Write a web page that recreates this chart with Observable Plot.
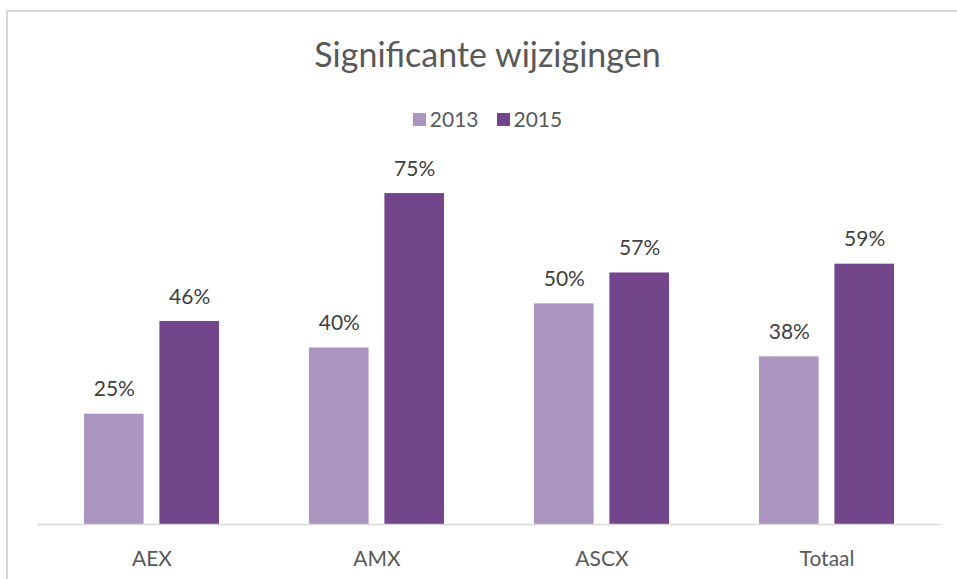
<!DOCTYPE html>
<html>
<head>
<meta charset="utf-8">
<script src="https://cdn.jsdelivr.net/npm/d3@7"></script>
<script src="https://cdn.jsdelivr.net/npm/@observablehq/plot@0.6"></script>
<style>
  html, body { margin: 0; padding: 0; background: #fff; overflow: hidden; }
  body { width: 957px; height: 579px; position: relative; font-family: Lato, "Open Sans", sans-serif; }
  #frame { position: absolute; left: 6px; top: 10px; width: 2000px; height: 2000px;
           border-left: 2px solid #d9d9d9; border-top: 2px solid #d9d9d9; }
  #title { position: absolute; left: 0; top: 34px; width: 975px; text-align: center;
           font-size: 34px; color: #595959; line-height: 40px; }
  #legend { position: absolute; left: 0; top: 106px; width: 975px; display: flex; justify-content: center;
            font-size: 21px; color: #595959; line-height: 26px; }
  #legend .item { display: flex; align-items: center; margin: 0 9px; }
  #legend .sw { width: 13px; height: 13px; margin-right: 4px; }
  #chart { position: absolute; left: 0; top: 0; }
</style>
</head>
<body>
<div id="frame"></div>
<div id="chart"></div>
<div id="title">Significante wijzigingen</div>
<div id="legend"></div>
<script>
const categories = ["AEX", "AMX", "ASCX", "Totaal"];
const years = ["2013", "2015"];
const values2013 = [0.25, 0.40, 0.50, 0.38];
const values2015 = [0.46, 0.75, 0.57, 0.59];
const colors = ["#ab94bf", "#73458b"];

const data = [];
categories.forEach((c, i) => {
  data.push({cat: c, year: years[0], v: values2013[i]});
  data.push({cat: c, year: years[1], v: values2015[i]});
});
const d13 = data.filter(d => d.year === years[0]);
const d15 = data.filter(d => d.year === years[1]);

const fmt = d3.format(".0%");
const off = 37.7;

const chart = Plot.plot({
  width: 957,
  height: 579,
  marginLeft: 37,
  marginRight: 17,
  marginTop: 171,
  marginBottom: 55,
  style: {fontFamily: "Lato, 'Open Sans', sans-serif", background: "transparent", overflow: "visible"},
  x: {domain: categories, paddingInner: 0.4, paddingOuter: 0.2, label: null},
  y: {domain: [0, 0.8], axis: null},
  marks: [
    Plot.barY(d13, {x: "cat", y: "v", fill: colors[0], insetRight: 75.4}),
    Plot.barY(d15, {x: "cat", y: "v", fill: colors[1], insetLeft: 75.4}),
    Plot.ruleY([0], {stroke: "#d9d9d9", strokeWidth: 1.5}),
    Plot.text(d13, {x: "cat", y: "v", text: d => fmt(d.v), dx: -off, dy: -18, lineAnchor: "bottom", fontSize: 21, fill: "#404040"}),
    Plot.text(d15, {x: "cat", y: "v", text: d => fmt(d.v), dx: off, dy: -18, lineAnchor: "bottom", fontSize: 21, fill: "#404040"}),
    Plot.axisX({tickSize: 0, tickPadding: 27, fontSize: 21, color: "#595959", label: null})
  ]
});
document.getElementById("chart").appendChild(chart);

const legend = document.getElementById("legend");
years.forEach((y, i) => {
  const item = document.createElement("div");
  item.className = "item";
  const sw = document.createElement("div");
  sw.className = "sw";
  sw.style.background = colors[i];
  const t = document.createElement("span");
  t.textContent = y;
  item.appendChild(sw);
  item.appendChild(t);
  legend.appendChild(item);
});
</script>
</body>
</html>
